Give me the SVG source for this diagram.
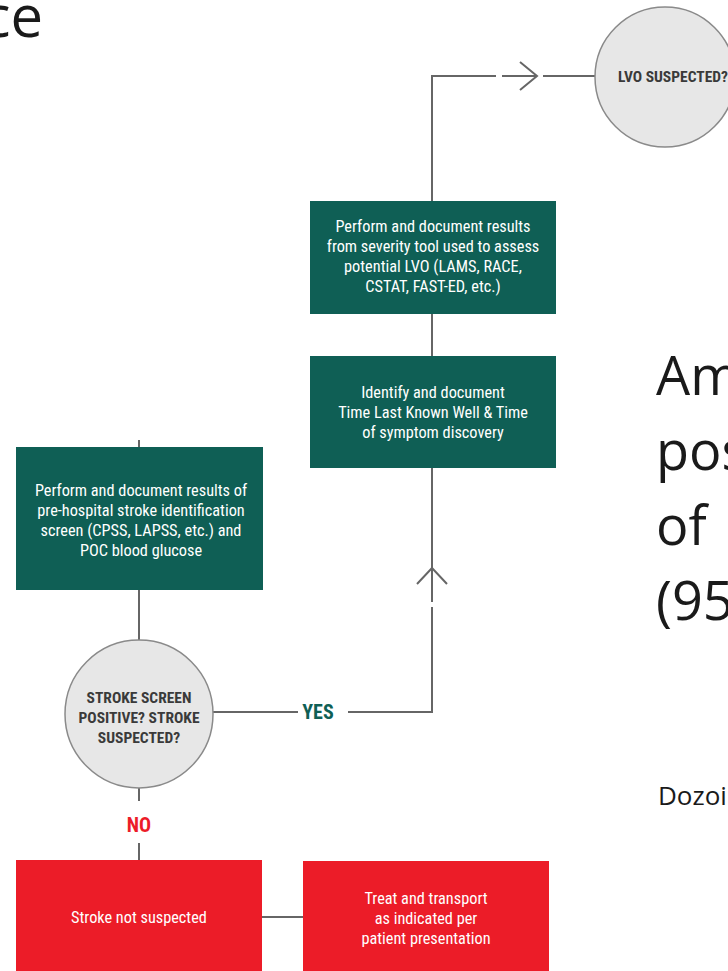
<svg xmlns="http://www.w3.org/2000/svg" width="728" height="971" viewBox="0 0 728 971">
  <style>
    .slide { font-family: "Open Sans", "Liberation Sans", sans-serif; font-weight: 400; fill: #1a1a1a; }
    .box-green { fill: #0f5f55; }
    .box-red { fill: #ec1c28; }
    .disc { fill: #e7e7e7; stroke: #8a8a8a; stroke-width: 1.5; }
    .lbl { font-family: "Roboto Condensed", "Liberation Sans Narrow", "Liberation Sans", sans-serif; font-size: 16.3px; fill: #ffffff; text-anchor: middle; }
    .q { font-family: "Roboto Condensed", "Liberation Sans Narrow", "Liberation Sans", sans-serif; font-size: 15.5px; font-weight: bold; fill: #3a3a3a; text-anchor: middle; }
    .line { fill: none; stroke: #666666; stroke-width: 2; }
    .yes { font-family: "Roboto Condensed", "Liberation Sans Narrow", "Liberation Sans", sans-serif; font-size: 20px; font-weight: bold; fill: #0f5f55; text-anchor: middle; }
    .no { font-family: "Roboto Condensed", "Liberation Sans Narrow", "Liberation Sans", sans-serif; font-size: 20px; font-weight: bold; fill: #ec1c28; text-anchor: middle; }
  </style>

  <rect width="728" height="971" fill="#ffffff"/>

  <!-- slide text around the flowchart -->
  <text class="slide" x="43" y="37" font-size="58" text-anchor="end">ce</text>
  <g class="slide" font-size="54">
    <text x="656" y="395">Am</text>
    <text x="656" y="470">pos</text>
    <text x="656" y="545">of</text>
    <text x="656" y="620">(95</text>
  </g>
  <text class="slide" x="658" y="805" font-size="26">Dozoi</text>

  <!-- connectors -->
  <g id="connectors">
    <path class="line" d="M432 201 V76 H496"/>
    <path class="line" d="M502 76 H536"/>
    <path class="line" d="M520 62 L537 76 L520 90"/>
    <path class="line" d="M543 76 H595"/>
    <path class="line" d="M432 314 V356"/>
    <path class="line" d="M432 468 V602"/>
    <path class="line" d="M417 584 L432 568 L447 584"/>
    <path class="line" d="M432 607 V712 H348"/>
    <path class="line" d="M298 712 H213"/>
    <path class="line" d="M139 440 V447"/>
    <path class="line" d="M139 590 V640"/>
    <path class="line" d="M139 788 V801"/>
    <path class="line" d="M139 843 V860"/>
    <path class="line" d="M262 917 H303"/>
    <text class="yes" x="318" y="719">YES</text>
    <text class="no" x="139" y="832">NO</text>
  </g>

  <g id="lvo-suspected">
    <circle class="disc" cx="665" cy="77" r="70"/>
    <text class="q" x="673" y="82">LVO SUSPECTED?</text>
  </g>

  <g id="severity-tool">
    <rect class="box-green" x="310" y="201" width="246" height="113"/>
    <text class="lbl" x="433" y="232">Perform and document results</text>
    <text class="lbl" x="433" y="252">from severity tool used to assess</text>
    <text class="lbl" x="433" y="272">potential LVO (LAMS, RACE,</text>
    <text class="lbl" x="433" y="292">CSTAT, FAST-ED, etc.)</text>
  </g>

  <g id="last-known-well">
    <rect class="box-green" x="310" y="356" width="246" height="112"/>
    <text class="lbl" x="433" y="398">Identify and document</text>
    <text class="lbl" x="433" y="418">Time Last Known Well &amp; Time</text>
    <text class="lbl" x="433" y="438">of symptom discovery</text>
  </g>

  <g id="stroke-screen">
    <rect class="box-green" x="16" y="447" width="247" height="143"/>
    <text class="lbl" x="141" y="496">Perform and document results of</text>
    <text class="lbl" x="141" y="516">pre-hospital stroke identification</text>
    <text class="lbl" x="141" y="536">screen (CPSS, LAPSS, etc.) and</text>
    <text class="lbl" x="141" y="556">POC blood glucose</text>
  </g>

  <g id="screen-positive">
    <circle class="disc" cx="139" cy="714" r="74"/>
    <text class="q" x="139" y="703">STROKE SCREEN</text>
    <text class="q" x="139" y="723">POSITIVE? STROKE</text>
    <text class="q" x="139" y="743">SUSPECTED?</text>
  </g>

  <g id="not-suspected">
    <rect class="box-red" x="16" y="860" width="246" height="111"/>
    <text class="lbl" x="139" y="923">Stroke not suspected</text>
  </g>

  <g id="treat-transport">
    <rect class="box-red" x="303" y="861" width="246" height="110"/>
    <text class="lbl" x="426" y="904">Treat and transport</text>
    <text class="lbl" x="426" y="924">as indicated per</text>
    <text class="lbl" x="426" y="944">patient presentation</text>
  </g>
</svg>
